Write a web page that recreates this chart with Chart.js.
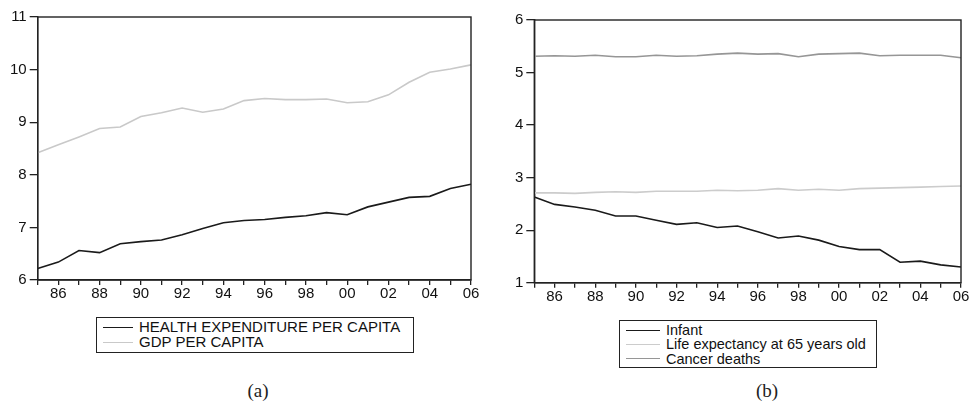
<!DOCTYPE html>
<html>
<head>
<meta charset="utf-8">
<script src="https://cdn.jsdelivr.net/npm/chart.js@4.4.1/dist/chart.umd.min.js"></script>
<style>
  body { margin: 0; background: #fff; width: 972px; height: 401px; position: relative; overflow: hidden; }
  canvas { position: absolute; top: 0; }
  .legend { position: absolute; border: 1.5px solid #222; font-family: "Liberation Sans", Arial, sans-serif; color: #111; box-sizing: border-box; padding: 2px 6px; }
  .legend div { white-space: nowrap; display: flex; align-items: center; }
  .legend span.ln { display: inline-block; height: 0; margin-right: 6px; }
  .cap { position: absolute; font-family: "Liberation Serif", "Times New Roman", serif; font-size: 19px; color: #222; transform: translate(-50%, -50%); }
</style>
</head>
<body>
<canvas id="chartA" width="486" height="300" style="left:0"></canvas>
<canvas id="chartB" width="486" height="305" style="left:486px"></canvas>
<div class="legend" id="legA" style="left:96px;top:317px;width:318px;height:36px;font-size:15px;line-height:14.7px"></div>
<div class="legend" id="legB" style="left:619px;top:320px;width:258px;height:48px;font-size:14.5px;line-height:14.3px"></div>
<div class="cap" style="left:258px;top:391px">(a)</div>
<div class="cap" style="left:767px;top:391px">(b)</div>
<script>
const years = [1985, 1986, 1987, 1988, 1989, 1990, 1991, 1992, 1993, 1994, 1995,
  1996, 1997, 1998, 1999, 2000, 2001, 2002, 2003, 2004, 2005, 2006];

const health = [6.22, 6.34, 6.56, 6.52, 6.69, 6.73, 6.76, 6.86, 6.98, 7.09, 7.13,
  7.15, 7.19, 7.22, 7.28, 7.24, 7.39, 7.48, 7.57, 7.59, 7.74, 7.82];
const gdp = [8.42, 8.57, 8.72, 8.88, 8.91, 9.11, 9.18, 9.27, 9.19, 9.25, 9.41,
  9.45, 9.43, 9.43, 9.44, 9.37, 9.39, 9.52, 9.76, 9.95, 10.01, 10.09];

const infant = [2.63, 2.49, 2.44, 2.38, 2.27, 2.27, 2.19, 2.11, 2.14, 2.05, 2.08,
  1.97, 1.85, 1.89, 1.81, 1.69, 1.63, 1.63, 1.39, 1.41, 1.34, 1.30];
const lifeExp = [2.71, 2.71, 2.70, 2.72, 2.73, 2.72, 2.74, 2.74, 2.74, 2.76, 2.75,
  2.76, 2.79, 2.76, 2.78, 2.76, 2.79, 2.80, 2.81, 2.82, 2.83, 2.84];
const cancer = [5.31, 5.32, 5.31, 5.33, 5.30, 5.30, 5.33, 5.31, 5.32, 5.35, 5.37,
  5.35, 5.36, 5.30, 5.35, 5.36, 5.37, 5.32, 5.33, 5.33, 5.33, 5.28];

const xTickLabels = ["86", "88", "90", "92", "94", "96", "98", "00", "02", "04", "06"];

const AXIS = "#222";
const FONT = { family: "'Liberation Sans', Arial, sans-serif", size: 15 };

// box round the plot area
const frame = {
  id: "frame",
  afterDraw(chart) {
    const { ctx, chartArea: a } = chart;
    ctx.save();
    ctx.strokeStyle = AXIS;
    ctx.lineWidth = 1.4;
    ctx.strokeRect(a.left, a.top, a.right - a.left, a.bottom - a.top);
    ctx.restore();
  },
};

function makeChart(id, series, yMin, yMax, box) {
  const ctx = document.getElementById(id).getContext("2d");
  return new Chart(ctx, {
    type: "line",
    data: {
      labels: years,
      datasets: series.map((s) => ({
        label: s.label,
        data: s.data,
        borderColor: s.color,
        borderWidth: 1.6,
        pointRadius: 0,
        tension: 0,
      })),
    },
    options: {
      responsive: false,
      animation: false,
      devicePixelRatio: 1,
      layout: { padding: { top: box.top, right: box.right, left: 0, bottom: 0 } },
      plugins: { legend: { display: false }, tooltip: { enabled: false } },
      scales: {
        x: {
          type: "category",
          offset: false,
          grid: { drawOnChartArea: false, color: AXIS, lineWidth: 1.3, tickLength: 5 },
          border: { color: AXIS, width: 1.4 },
          ticks: {
            autoSkip: false,
            maxRotation: 0,
            color: "#111",
            font: FONT,
            padding: 0,
            callback: function (value, i) {
              const lab = String(years[i]).slice(2);
              return xTickLabels.includes(lab) && years[i] % 2 === 0 ? lab : "";
            },
          },
          afterFit: (scale) => { scale.height = box.xh; },
        },
        y: {
          min: yMin,
          max: yMax,
          grid: { drawOnChartArea: false, color: AXIS, lineWidth: 1.3, tickLength: 8 },
          border: { color: AXIS, width: 1.4 },
          ticks: { stepSize: 1, color: "#111", font: FONT, padding: 3 },
          afterFit: (scale) => { scale.width = box.yw; },
        },
      },
    },
    plugins: [frame],
  });
}

const seriesA = [
  { label: "HEALTH EXPENDITURE PER CAPITA", data: health, color: "#1a1a1a" },
  { label: "GDP PER CAPITA", data: gdp, color: "#c9c9c9" },
];
const seriesB = [
  { label: "Infant", data: infant, color: "#1a1a1a" },
  { label: "Life expectancy at 65 years old", data: lifeExp, color: "#cccccc" },
  { label: "Cancer deaths", data: cancer, color: "#969696" },
];

makeChart("chartA", seriesA, 6, 11, { top: 17, right: 15, xh: 20, yw: 37.7 });
makeChart("chartB", seriesB, 1, 6, { top: 20, right: 11, xh: 22.3, yw: 48.3 });

function fillLegend(id, series, lineLen) {
  const el = document.getElementById(id);
  series.forEach((s) => {
    const row = document.createElement("div");
    const ln = document.createElement("span");
    ln.className = "ln";
    ln.style.width = lineLen + "px";
    ln.style.borderTop = "1.6px solid " + s.color;
    row.appendChild(ln);
    row.appendChild(document.createTextNode(s.label));
    el.appendChild(row);
  });
}
fillLegend("legA", seriesA, 30);
fillLegend("legB", seriesB, 34);
</script>
</body>
</html>
